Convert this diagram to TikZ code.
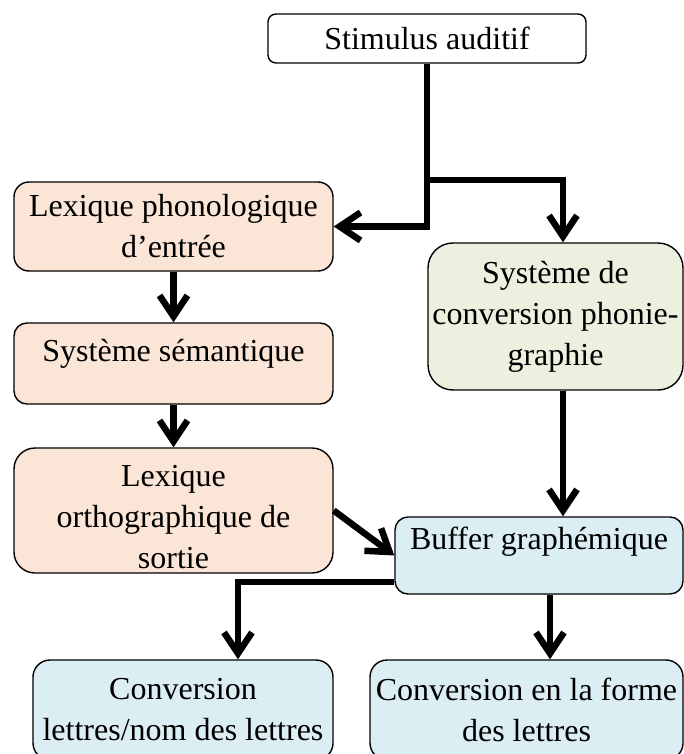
\documentclass[tikz,border=0pt]{standalone}
\usepackage{fontspec}
\setmainfont{Liberation Serif}
\usepackage{tikz}
\usetikzlibrary{arrows.meta,calc,positioning}

\definecolor{peach}{HTML}{FBE5D6}
\definecolor{sage}{HTML}{EBF1DE}
\definecolor{pale}{HTML}{DAEEF3}

\begin{document}
\begin{tikzpicture}[x=1pt, y=1pt,
  box/.style={draw, line width=1.4pt, rounded corners=#1, align=center, inner sep=0pt,
    font=\fontsize{32}{41}\selectfont},
  box/.default=14pt,
  arr/.style={line width=6.5pt, -{Straight Barb[length=21pt,width=28pt]}},
  toptext/.style={text depth=#1}]
  \useasboundingbox (0,0) rectangle (684,-754);
  \clip (0,0) rectangle (684,-754);

  \node (stim) [box=8pt, fill=white, minimum width=318pt, minimum height=49pt] at (427,-38.5) {Stimulus auditif};
  \node (phono) [box=15pt, fill=peach, minimum width=319pt, minimum height=89pt] at (173.5,-226.5) {Lexique phonologique\\d’entrée};
  \node (sem) [box=13pt, fill=peach, minimum width=319pt, minimum height=81pt, toptext=27pt] at (173.5,-363.5) {Système sémantique};
  \node (ortho) [box=21pt, fill=peach, minimum width=319pt, minimum height=125pt, text height=117pt] at (173.5,-510.5) {Lexique\\orthographique de\\sortie};
  \node (conv) [box=25pt, fill=sage, minimum width=255pt, minimum height=147pt] at (555.5,-316.5) {Système de\\conversion phonie-\\graphie};
  \node (buffer) [box=13pt, fill=pale, minimum width=288pt, minimum height=77pt, toptext=34pt] at (539,-555.5) {Buffer graphémique};
  \node (nom) [box=17pt, fill=pale, minimum width=300pt, minimum height=100pt] at (183,-710) {Conversion\\lettres/nom des lettres};
  \node (forme) [box=17pt, fill=pale, minimum width=313pt, minimum height=100pt] at (526.5,-710) {Conversion en la forme\\des lettres};

  % voies
  \coordinate (split) at (stim.south |- 0,-180);
  \draw[arr] (stim.south) |- (phono.east);
  \draw[arr] (split) -| ([xshift=7.5pt]conv.north);
  \draw[arr] (phono) -- (sem);
  \draw[arr] (sem) -- (ortho);
  \draw[arr] (ortho.east) -- (buffer.west);
  \draw[arr] ([xshift=7.5pt]conv.south) -- ([xshift=7.5pt]conv.south |- buffer.north);
  \draw[arr] ([yshift=-26.5pt]buffer.west) -| ([xshift=55pt]nom.north);
  \draw[arr] ([xshift=11pt]buffer.south) -- ([xshift=11pt]buffer.south |- forme.north);
\end{tikzpicture}
\end{document}
